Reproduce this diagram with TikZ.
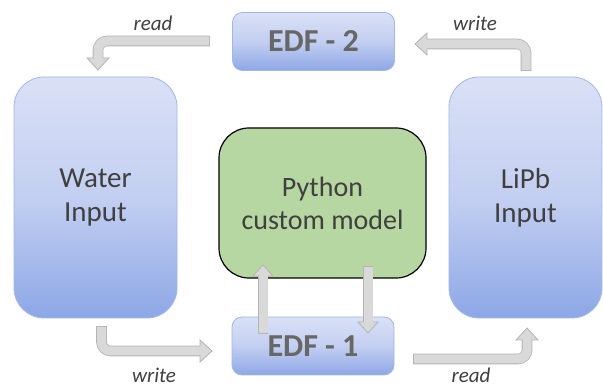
\documentclass[tikz,border=0pt]{standalone}
\usepackage{fontspec}
\setmainfont{Carlito}
\usetikzlibrary{calc}

\definecolor{boxtop}{HTML}{DAE1F6}
\definecolor{boxmid}{HTML}{C3CFF1}
\definecolor{boxbot}{HTML}{8DA7E6}
\definecolor{boxedge}{HTML}{A2B6EA}
\definecolor{modelgreen}{HTML}{B6D7A1}
\definecolor{txt}{HTML}{404040}
\definecolor{edftxt}{HTML}{676767}
\definecolor{arrowfill}{HTML}{D9D9D9}
\definecolor{arrowedge}{HTML}{B4B4B4}

\tikzset{
  bluebox/.style={draw=boxedge, line width=0.8pt, top color=boxtop,
    bottom color=boxbot, middle color=boxmid, inner sep=0pt, align=center},
  inputbox/.style={bluebox, rounded corners=30pt, minimum height=241pt,
    text=txt, font=\fontsize{29}{34}\selectfont},
  edfbox/.style={bluebox, rounded corners=10pt, minimum width=162pt,
    minimum height=58pt, text=edftxt, font=\fontsize{32}{38}\selectfont\bfseries},
  modelbox/.style={draw=black, line width=1.2pt, fill=modelgreen,
    rounded corners=30pt, minimum width=207pt, minimum height=150pt,
    inner sep=0pt, align=center, text=txt, font=\fontsize{28}{33}\selectfont},
  flowlabel/.style={text=txt, font=\fontsize{21}{25}\selectfont\itshape, inner sep=0pt},
  shaftedge/.style={line width=10.6pt, draw=arrowedge, rounded corners=9pt},
  shaftfill/.style={line width=9pt, draw=arrowfill, rounded corners=9pt},
  headshape/.style={fill=arrowfill, draw=arrowedge, line width=0.8pt, line join=miter},
}

% Block arrow with one rounded bend: start, corner, tip
\newcommand\bentarrow[3]{%
  \coordinate (hb) at ($(#3)!12pt!(#2)$);
  \coordinate (hl) at ($(hb)!11pt!90:(#3)$);
  \coordinate (hr) at ($(hb)!11pt!-90:(#3)$);
  \draw[shaftedge] ($(#1)!-0.8pt!(#2)$) -- (#2) -- (hb);
  \draw[headshape] (hl) -- (#3) -- (hr) -- cycle;
  \draw[shaftfill] (#1) -- (#2) -- ($(hb)!1.5pt!(#3)$);
}
% Straight block arrow: start, tip
\newcommand\straightarrow[2]{%
  \coordinate (hb) at ($(#2)!11pt!(#1)$);
  \coordinate (hl) at ($(hb)!10pt!90:(#2)$);
  \coordinate (hr) at ($(hb)!10pt!-90:(#2)$);
  \draw[shaftedge] ($(#1)!-0.8pt!(#2)$) -- (hb);
  \draw[headshape] (hl) -- (#2) -- (hr) -- cycle;
  \draw[shaftfill] (#1) -- ($(hb)!1.5pt!(#2)$);
}

\begin{document}
\begin{tikzpicture}[x=1pt, y=-1pt]
  \useasboundingbox[fill=white] (0,0) rectangle (603,387);

  % boxes
  \node[inputbox, minimum width=163pt] (water) at (95.5,197.5) {Water\\Input};
  \node[inputbox, minimum width=153pt] (lipb) at (525.5,197.5) {LiPb\\Input};
  \node[edfbox] (edf2) at (313.5,41.5) {EDF - 2};
  \node[edfbox] (edf1) at (313,346) {EDF - 1};
  \node[modelbox] (model) at (322.5,203) {Python\\custom model};

  % arrow end points
  \coordinate (r2s) at (209,41);  \coordinate (r2c) at (98,41);   \coordinate (r2t) at (98,70);
  \coordinate (w2s) at (526,70);  \coordinate (w2c) at (526,44);  \coordinate (w2t) at (415,44);
  \coordinate (w1s) at (101.5,327); \coordinate (w1c) at (101.5,351); \coordinate (w1t) at (212,351);
  \coordinate (r1s) at (414,359); \coordinate (r1c) at (527,359); \coordinate (r1t) at (527,328);
  \coordinate (ups) at (263,333); \coordinate (upt) at (263,265);
  \coordinate (dns) at (368,267); \coordinate (dnt) at (368,333);

  % data exchange
  \bentarrow{r2s}{r2c}{r2t}
  \bentarrow{w2s}{w2c}{w2t}
  \bentarrow{w1s}{w1c}{w1t}
  \bentarrow{r1s}{r1c}{r1t}
  \straightarrow{ups}{upt}
  \straightarrow{dns}{dnt}

  % labels
  \node[flowlabel] (lread2) at (153,23) {read};
  \node[flowlabel] (lwrite2) at (475,23) {write};
  \node[flowlabel] (lwrite1) at (154,375) {write};
  \node[flowlabel] (lread1) at (471,375) {read};
\end{tikzpicture}
\end{document}
